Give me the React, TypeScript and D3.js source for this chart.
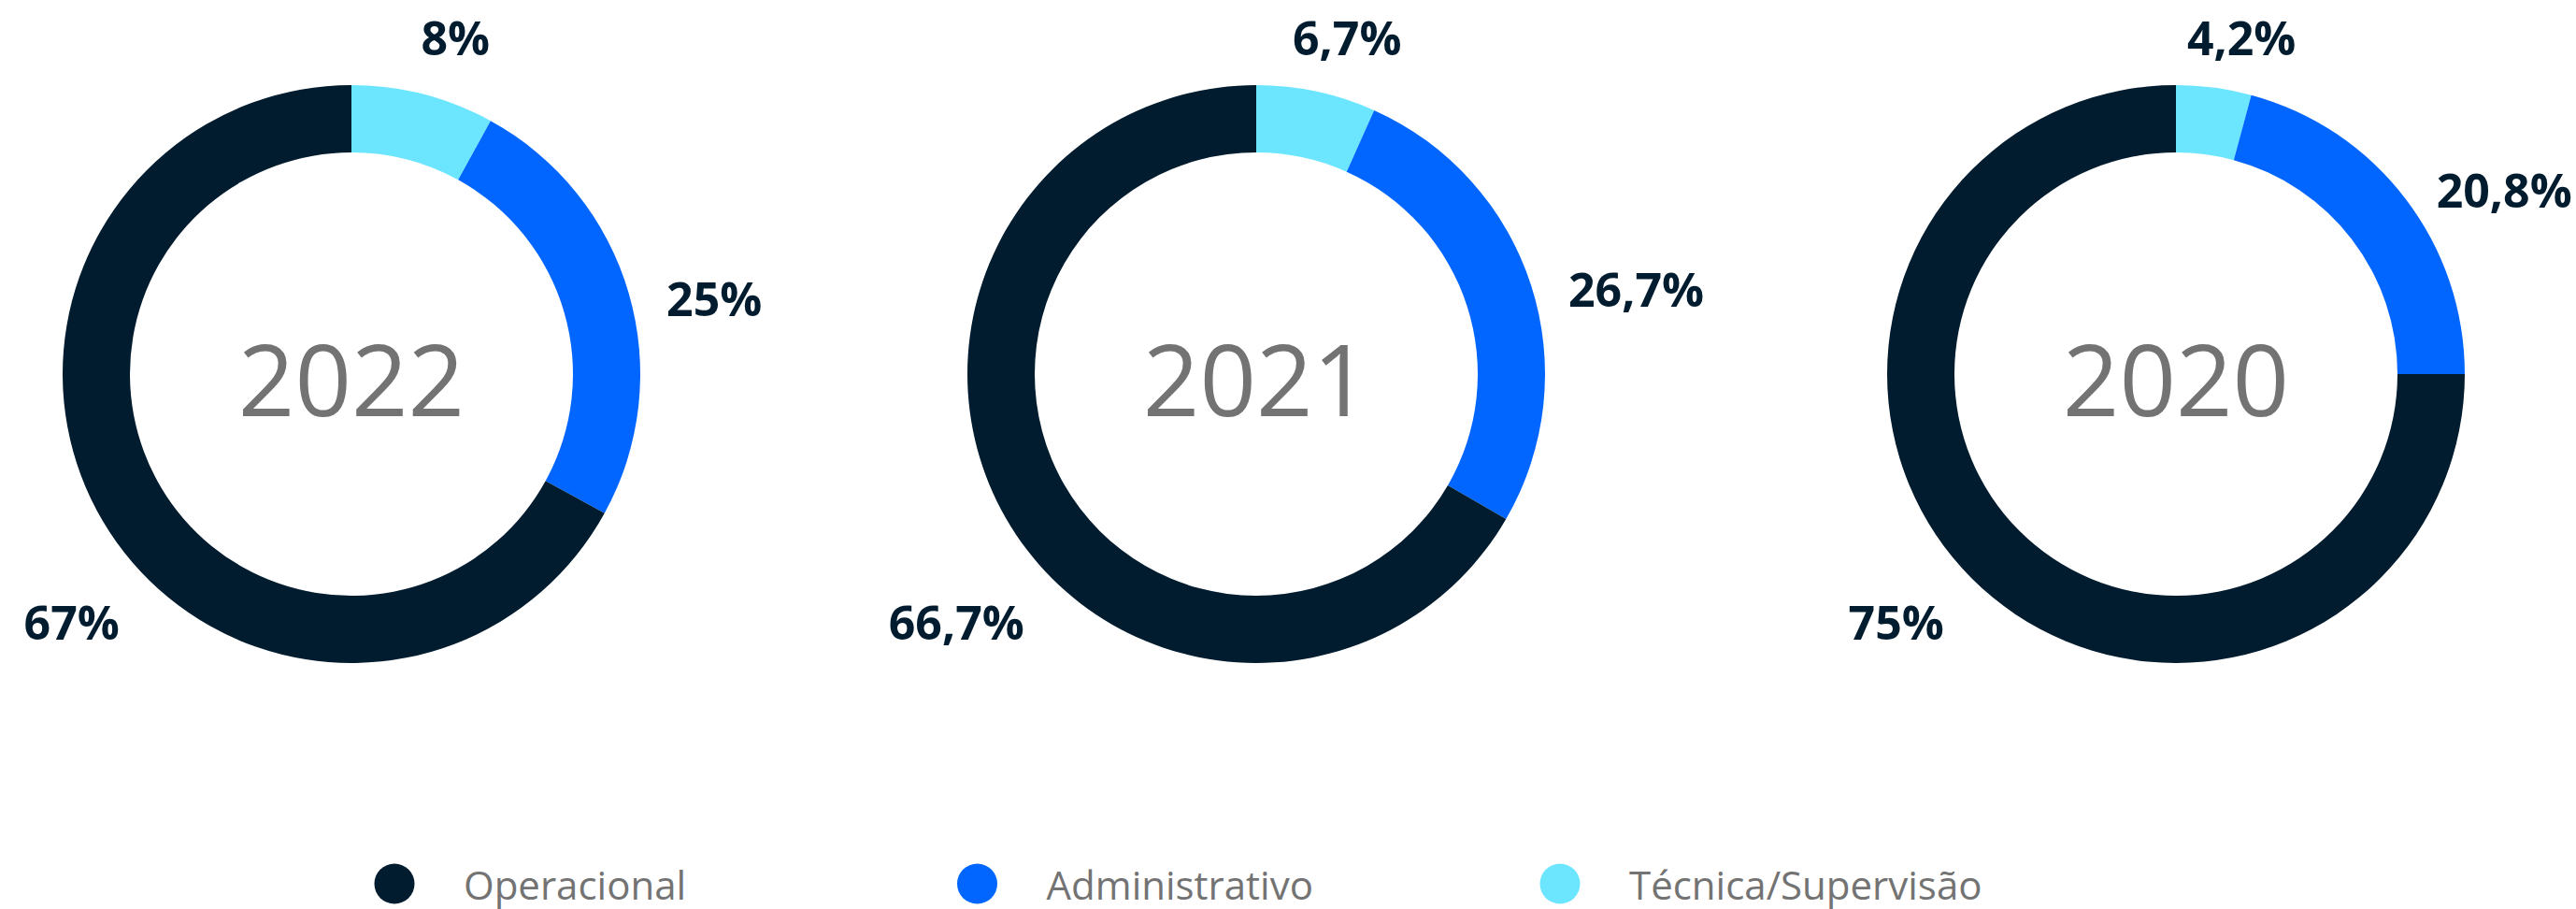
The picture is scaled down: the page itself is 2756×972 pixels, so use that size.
import React from "react";
import * as d3 from "d3";

// ---- data ----
const YEARS = ["2022", "2021", "2020"];
const CATEGORIES = ["Operacional", "Administrativo", "Técnica/Supervisão"];
const OPERACIONAL = [67, 66.7, 75];
const ADMINISTRATIVO = [25, 26.7, 20.8];
const TECNICA = [8, 6.7, 4.2];

// ---- styles ----
const W = 2756;
const H = 972;
const COLORS: Record<string, string> = {
  Operacional: "#011c2f",
  Administrativo: "#0066ff",
  "Técnica/Supervisão": "#6ce5ff",
};
const LABEL_COLOR = "#011c2f";
const GRAY = "#737373";
const FONT = "'Open Sans', 'Noto Sans', sans-serif";

const OUTER_R = 309;
const INNER_R = 237;
const LABEL_R = 351;
const CY = 400;
const LABEL_FS = 50;
const CAP = LABEL_FS * 0.714;

const locale = d3.formatLocale({
  decimal: ",",
  thousands: ".",
  grouping: [3],
  currency: ["R$", ""],
});
const fmt = locale.format(".1~f");

const xScale = d3.scaleOrdinal<string, number>().domain(YEARS).range([376, 1344, 2328]);
const legendScale = d3
  .scalePoint<string>()
  .domain(CATEGORIES)
  .range([422, 1669]);

const pie = d3
  .pie<{ cat: string; value: number }>()
  .sort(null)
  .value((d) => d.value);
const arc = d3
  .arc<d3.PieArcDatum<{ cat: string; value: number }>>()
  .innerRadius(INNER_R)
  .outerRadius(OUTER_R);

const MAX_LABEL_ANGLE = (225 * Math.PI) / 180;

function labelLayout(a: d3.PieArcDatum<{ cat: string; value: number }>) {
  let theta = (a.startAngle + a.endAngle) / 2;
  theta = Math.min(theta, MAX_LABEL_ANGLE);
  const ax = Math.sin(theta) * LABEL_R;
  const ay = -Math.cos(theta) * LABEL_R;
  if (Math.cos(theta) > 0.9) {
    // labels near the top sit on a common baseline just above the ring
    return { x: ax + 24, y: -(OUTER_R + 32), anchor: "middle" as const };
  }
  if (Math.sin(theta) > 0) {
    return { x: ax, y: ay + CAP, anchor: "start" as const };
  }
  return { x: ax, y: ay + CAP, anchor: "end" as const };
}

function Donut({ yearIndex }: { yearIndex: number }) {
  const year = YEARS[yearIndex];
  // clockwise from top: Técnica, Administrativo, Operacional
  const rows = [
    { cat: CATEGORIES[2], value: TECNICA[yearIndex] },
    { cat: CATEGORIES[1], value: ADMINISTRATIVO[yearIndex] },
    { cat: CATEGORIES[0], value: OPERACIONAL[yearIndex] },
  ];
  const arcs = pie(rows);
  const cx = xScale(year) as number;
  return (
    <g transform={`translate(${cx},${CY})`}>
      {arcs.map((a) => (
        <path key={a.data.cat} d={arc(a) || ""} fill={COLORS[a.data.cat]} />
      ))}
      {arcs.map((a) => {
        const l = labelLayout(a);
        return (
          <text
            key={"l" + a.data.cat}
            x={l.x}
            y={l.y}
            textAnchor={l.anchor}
            fontFamily={FONT}
            fontWeight={700}
            fontSize={LABEL_FS}
            fill={LABEL_COLOR}
          >
            {fmt(a.data.value) + "%"}
          </text>
        );
      })}
      <text
        x={0}
        y={45}
        textAnchor="middle"
        fontFamily={FONT}
        fontWeight={400}
        fontSize={106}
        fill={GRAY}
      >
        {year}
      </text>
    </g>
  );
}

export default function App() {
  return (
    <svg
      width={W}
      height={H}
      viewBox={`0 0 ${W} ${H}`}
      style={{ position: "absolute", left: 0, top: 0, display: "block", background: "#fff" }}
    >
      <rect width={W} height={H} fill="#fff" />
      {YEARS.map((y, i) => (
        <Donut key={y} yearIndex={i} />
      ))}
      {CATEGORIES.map((c) => {
        const x = legendScale(c) as number;
        return (
          <g key={c} transform={`translate(${x},945)`}>
            <circle r={21.5} fill={COLORS[c]} />
            <text
              x={74}
              y={17}
              fontFamily={FONT}
              fontSize={42}
              fill={GRAY}
            >
              {c}
            </text>
          </g>
        );
      })}
    </svg>
  );
}
